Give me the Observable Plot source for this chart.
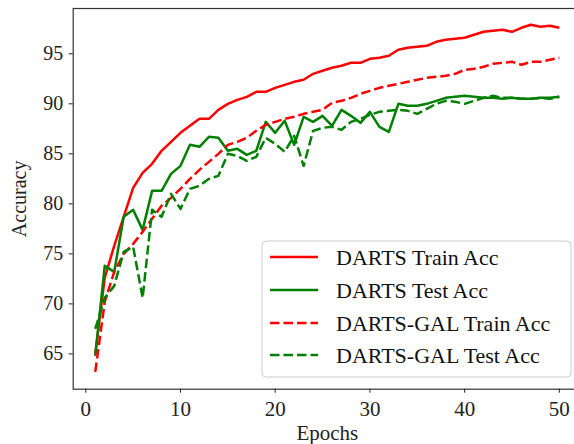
<!DOCTYPE html>
<html>
<head>
<meta charset="utf-8">
<script src="https://cdn.jsdelivr.net/npm/d3@7"></script>
<script src="https://cdn.jsdelivr.net/npm/@observablehq/plot@0.6"></script>
<style>
  html, body { margin: 0; padding: 0; background: #fff; }
  #chart { width: 574px; height: 444px; overflow: hidden; }
</style>
</head>
<body>
<div id="chart"></div>
<script>
const epochs = [1,2,3,4,5,6,7,8,9,10,11,12,13,14,15,16,17,18,19,20,21,22,23,24,25,26,27,28,29,30,31,32,33,34,35,36,37,38,39,40,41,42,43,44,45,46,47,48,49,50];

const dartsTrain = [65.0,72.6,75.8,78.7,81.6,83.1,84.0,85.3,86.2,87.1,87.8,88.5,88.5,89.4,90.0,90.4,90.7,91.2,91.2,91.6,91.9,92.2,92.4,93.0,93.3,93.6,93.8,94.1,94.1,94.5,94.6,94.8,95.4,95.6,95.7,95.8,96.2,96.4,96.5,96.6,96.9,97.2,97.3,97.4,97.2,97.6,97.9,97.7,97.8,97.6];

const dartsTest = [64.8,73.8,73.2,78.7,79.4,77.4,81.3,81.3,83.0,83.8,85.9,85.7,86.7,86.6,85.3,85.5,84.9,85.3,88.2,87.1,88.3,85.9,88.7,88.2,88.8,87.8,89.4,88.8,88.1,89.2,87.7,87.2,90.0,89.8,89.8,90.0,90.3,90.6,90.7,90.8,90.7,90.6,90.6,90.5,90.6,90.5,90.5,90.6,90.6,90.7];

const galTrain = [63.2,70.2,73.2,75.0,76.0,77.2,78.5,79.8,80.6,81.5,82.5,83.4,84.2,85.0,85.9,86.2,86.6,87.3,87.9,88.2,88.5,88.7,89.0,89.2,89.4,90.1,90.3,90.6,91.0,91.3,91.6,91.8,92.0,92.2,92.4,92.6,92.7,92.8,93.0,93.4,93.5,93.7,94.0,94.1,94.2,93.9,94.2,94.2,94.4,94.6];

const galTest = [67.5,70.6,71.8,75.2,75.7,70.6,79.4,78.7,81.0,79.5,81.5,81.8,82.5,82.8,85.0,84.8,84.3,84.7,86.6,86.0,85.2,86.8,83.8,87.3,87.6,87.7,87.4,88.2,88.5,88.9,89.2,89.3,89.4,89.3,89.0,89.5,90.0,90.3,90.2,90.0,90.3,90.6,90.8,90.6,90.6,90.5,90.5,90.6,90.5,90.7];

const seriesNames = ["DARTS Train Acc", "DARTS Test Acc", "DARTS-GAL Train Acc", "DARTS-GAL Test Acc"];
const seriesColors = ["#ff0000", "#008000", "#ff0000", "#008000"];
const seriesDash = [null, null, "9.5,4", "9.5,4"];
const seriesValues = [dartsTrain, dartsTest, galTrain, galTest];

const xTicks = [0, 10, 20, 30, 40, 50];
const yTicks = [65, 70, 75, 80, 85, 90, 95];

const FONT = "'Liberation Serif', 'Times New Roman', Times, serif";

const lineMarks = seriesValues.map((vals, i) => {
  const rows = epochs.map((e, j) => ({epoch: e, acc: vals[j]}));
  return Plot.line(rows, {
    x: "epoch", y: "acc",
    stroke: seriesColors[i],
    strokeWidth: 2.5,
    strokeDasharray: seriesDash[i],
    strokeLinejoin: "round",
    strokeLinecap: "butt"
  });
});

const chart = Plot.plot({
  width: 574,
  height: 444,
  marginLeft: 72.7,
  marginRight: -6.9,
  marginTop: 8,
  marginBottom: 55.3,
  style: {fontFamily: FONT, fontSize: "21px", background: "#fff", color: "#222", overflow: "hidden"},
  x: {domain: [-1.33, 52.33]},
  y: {domain: [61.47, 99.53]},
  marks: [
    ...lineMarks,
    Plot.frame({stroke: "#333", strokeWidth: 1.2}),
    Plot.axisX({ticks: xTicks, tickSize: 4, tickPadding: 8, tickFormat: d => String(d),
      label: "Epochs", labelAnchor: "center", labelArrow: "none", labelOffset: 51,
      fontSize: 21, fontFamily: FONT}),
    Plot.axisY({ticks: yTicks, tickSize: 4, tickPadding: 6, tickFormat: d => String(d),
      label: "Accuracy", labelAnchor: "center", labelArrow: "none", labelOffset: 61,
      fontSize: 20, fontFamily: FONT})
  ]
});

document.getElementById("chart").appendChild(chart);

// Legend inside the plot area (lower right)
const svg = d3.select(chart);
const lg = svg.append("g").attr("class", "legend");
const box = {x: 262, y: 241, w: 309, h: 136};
lg.append("rect")
  .attr("x", box.x).attr("y", box.y).attr("width", box.w).attr("height", box.h)
  .attr("rx", 4).attr("ry", 4)
  .attr("fill", "#fff").attr("fill-opacity", 0.85)
  .attr("stroke", "#cccccc").attr("stroke-width", 1);
const rowY = [257, 290, 323, 355];
seriesNames.forEach((name, i) => {
  const y = rowY[i];
  lg.append("line")
    .attr("x1", 270).attr("x2", 318).attr("y1", y).attr("y2", y)
    .attr("stroke", seriesColors[i]).attr("stroke-width", 2.5)
    .attr("stroke-dasharray", seriesDash[i]);
  lg.append("text")
    .attr("x", 336).attr("y", y).attr("dy", "0.35em")
    .attr("text-anchor", "start")
    .attr("font-family", FONT).attr("font-size", 22)
    .attr("fill", "#111")
    .text(name);
});
</script>
</body>
</html>
